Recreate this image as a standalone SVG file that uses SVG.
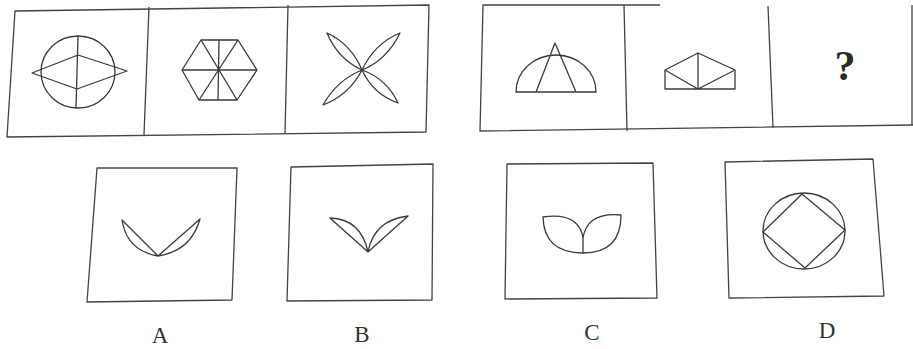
<svg xmlns="http://www.w3.org/2000/svg" width="913" height="349" viewBox="0 0 913 349">
<style>
.frame{fill:none;stroke:#444;stroke-width:1.3;stroke-linejoin:round}
.fig{fill:none;stroke:#3a3a3a;stroke-width:1.3;stroke-linejoin:round;stroke-linecap:round}
.lbl{font-family:"Liberation Serif",serif;font-size:23px;fill:#333;text-anchor:middle}
.q{font-family:"Liberation Serif",serif;font-size:42px;font-weight:bold;fill:#2a2a2a;text-anchor:middle}
</style>
<rect width="913" height="349" fill="#fff"/>

<g id="strip1">
<path class="frame" d="M15,11 L429,5 L426,132 L7,137 Z"/>
<path class="frame" d="M149,7 L144,135 M288,5 L285,134"/>
</g>
<g id="strip2">
<path class="frame" d="M660,5 L483,5 L480,131 L913,125 M624,5 L627,131 M768,6 L773,128 M912,5 L912,125"/>
</g>

<g id="fig1">
<ellipse class="fig" cx="78" cy="72" rx="37" ry="36"/>
<path class="fig" d="M78,36 L76,108 M32,73 L78,55 L127,71 L77,89 Z"/>
</g>
<g id="fig2">
<path class="fig" d="M182,70 L201,40 L238,40 L257,70 L237,100 L199,100 Z M182,70 L257,70 M201,40 L237,100 M238,40 L199,100 M219,40 L218,100"/>
</g>
<g id="fig3">
<path class="fig" d="M327,33 Q338,59 362,70 Q351,44 327,33 Z M400,33 Q375,43 362,70 Q387,60 400,33 Z M323,105 Q349,95 362,70 Q337,80 323,105 Z M398,103 Q387,79 362,70 Q373,94 398,103 Z"/>
</g>
<g id="fig4">
<path class="fig" d="M516,92 A40,37 0 0 1 596,92 Z M536,92 L555,43 L576,92"/>
</g>
<g id="fig5">
<path class="fig" d="M665,70 L665,89 L735,89 L735,70 L698,53 Z M698,53 L698,89 M665,70 L698,89 L735,70"/>
</g>
<g id="q">
<text class="q" x="845" y="80">?</text>
</g>

<g id="optA">
<path class="frame" d="M97,168 L237,168 L232,300 L87,302 Z"/>
<path class="fig" d="M122,220 L158,256 L200,219 M122,220 Q127,251 158,256 Q191,251 200,219"/>
<text class="lbl" x="160" y="343">A</text>
</g>
<g id="optB">
<path class="frame" d="M291,167 L433,164 L432,300 L287,301 Z"/>
<path class="fig" d="M330,218 L368,252 L408,216 M330,218 Q361,219 368,252 Q374,220 408,216"/>
<text class="lbl" x="362" y="342">B</text>
</g>
<g id="optC">
<path class="frame" d="M507,164 L653,163 L657,298 L505,299 Z"/>
<path class="fig" d="M543,217 Q544,253 583,253 Q621,253 621,215 M543,217 Q579,212 583,238 Q587,212 621,215 M583,238 L583,253"/>
<text class="lbl" x="592" y="340">C</text>
</g>
<g id="optD">
<path class="frame" d="M725,162 L873,159 L884,296 L729,298 Z"/>
<ellipse class="fig" cx="804" cy="231" rx="41" ry="38"/>
<path class="fig" d="M802,194 L845,230 L805,268 L763,232 Z"/>
<text class="lbl" x="827" y="338">D</text>
</g>
</svg>
